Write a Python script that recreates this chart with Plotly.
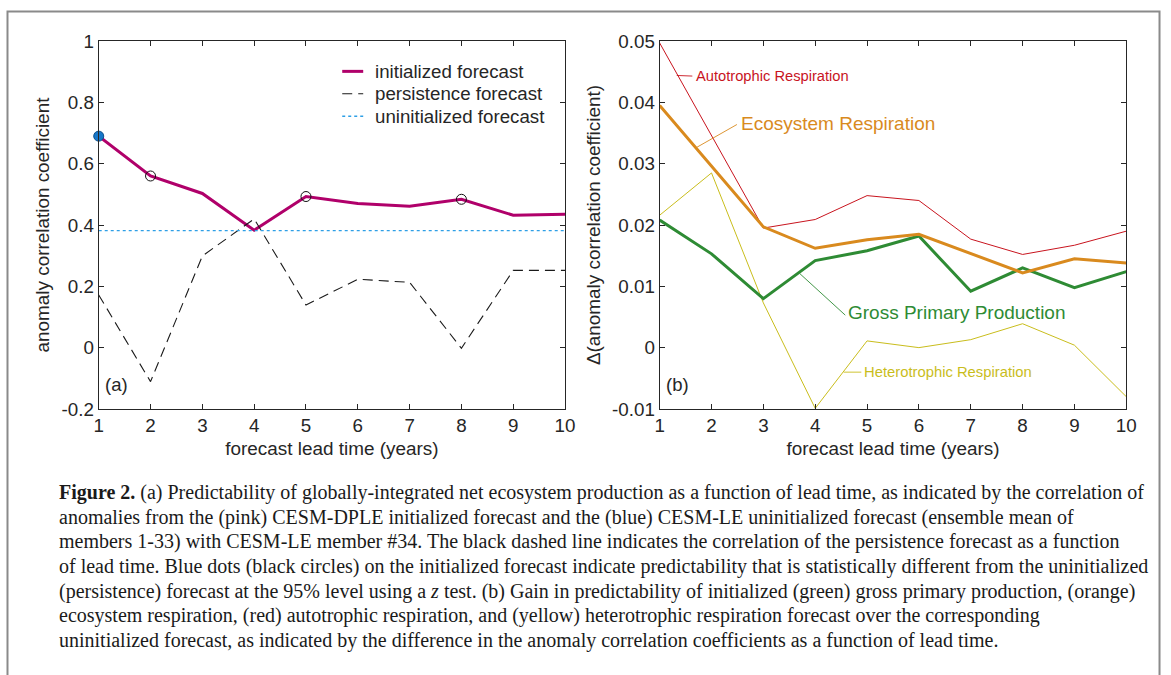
import plotly.graph_objects as go

W, H = 1171, 675
# measured mapping between page pixels and the photographed picture:
# picture = A + S * page  -> design targets are converted back to page pixels
SX, AX = 0.988, 5.5
SY, AY = 0.971, 9.5

# ---------------- data ----------------
lead_time = [1, 2, 3, 4, 5, 6, 7, 8, 9, 10]
x_tick_labels = ["1", "2", "3", "4", "5", "6", "7", "8", "9", "10"]

# panel (a)
initialized = [0.69, 0.56, 0.503, 0.383, 0.493, 0.47, 0.461, 0.484, 0.432, 0.435]
persistence = [0.172, -0.111, 0.299, 0.42, 0.139, 0.223, 0.213, -0.002, 0.252, 0.252]
uninitialized_acc = 0.3815
blue_dot_years = [1]
black_circle_years = [2, 5, 8]
a_tick_vals = [-0.2, 0, 0.2, 0.4, 0.6, 0.8, 1]
a_tick_labels = ["-0.2", "0", "0.2", "0.4", "0.6", "0.8", "1"]

# panel (b)
gross_primary_production = [0.0208, 0.0153, 0.0080, 0.0142, 0.0158, 0.0182, 0.0092, 0.0130, 0.0098, 0.0124]
ecosystem_respiration = [0.0395, 0.0296, 0.0197, 0.0162, 0.0176, 0.0185, 0.0153, 0.0122, 0.0145, 0.0138]
autotrophic_respiration = [0.0497, 0.0345, 0.0195, 0.0209, 0.0248, 0.0240, 0.0177, 0.0152, 0.0167, 0.0190]
heterotrophic_respiration = [0.0216, 0.0285, 0.0073, -0.0099, 0.0011, 0.0000, 0.0013, 0.0039, 0.0004, -0.0080]
b_tick_vals = [-0.01, 0, 0.01, 0.02, 0.03, 0.04, 0.05]
b_tick_labels = ["-0.01", "0", "0.01", "0.02", "0.03", "0.04", "0.05"]

legend_names = ["initialized forecast", "persistence forecast", "uninitialized forecast"]

caption_lines = [
    "<b>Figure 2.</b> (a) Predictability of globally-integrated net ecosystem production as a function of lead time, as indicated by the correlation of",
    "anomalies from the (pink) CESM-DPLE initialized forecast and the (blue) CESM-LE uninitialized forecast (ensemble mean of",
    "members 1-33) with CESM-LE member #34. The black dashed line indicates the correlation of the persistence forecast as a function",
    "of lead time. Blue dots (black circles) on the initialized forecast indicate predictability that is statistically different from the uninitialized",
    "(persistence) forecast at the 95% level using a <i>z</i> test. (b) Gain in predictability of initialized (green) gross primary production, (orange)",
    "ecosystem respiration, (red) autotrophic respiration, and (yellow) heterotrophic respiration forecast over the corresponding",
    "uninitialized forecast, as indicated by the difference in the anomaly correlation coefficients as a function of lead time.",
]

# ---------------- styles ----------------
PINK = "#B0006A"
BLUE_LINE = "#2E9FE6"
BLUE_DOT = "#1677C9"
RED = "#C8141E"
ORANGE = "#D98A1E"
GREEN = "#2E8B34"
YELLOW = "#C9BD1C"
AXC = "#262626"
SANS = "Liberation Sans, Arial, Helvetica, sans-serif"
SERIF = "Liberation Serif, Times New Roman, serif"
PERSIST_DASH = "10px,6px"


def px(x):
    return ((x - AX) / SX) / W


def py(y):
    return 1 - ((y - AY) / SY) / H


fig = go.Figure()

# panel (a)
fig.add_trace(go.Scatter(x=lead_time, y=initialized, mode="lines", name=legend_names[0],
                         line=dict(color=PINK, width=3), xaxis="x", yaxis="y"))
fig.add_trace(go.Scatter(x=lead_time, y=persistence, mode="lines", name=legend_names[1],
                         line=dict(color="#1a1a1a", width=1.1, dash=PERSIST_DASH), xaxis="x", yaxis="y"))
fig.add_trace(go.Scatter(x=lead_time, y=[uninitialized_acc] * len(lead_time), mode="lines",
                         name=legend_names[2],
                         line=dict(color=BLUE_LINE, width=1.3, dash="dot"), xaxis="x", yaxis="y"))
fig.add_trace(go.Scatter(x=blue_dot_years,
                         y=[initialized[lead_time.index(t)] for t in blue_dot_years],
                         mode="markers", cliponaxis=False,
                         marker=dict(color=BLUE_DOT, size=10, line=dict(color="#0d4f8a", width=1)),
                         xaxis="x", yaxis="y"))
fig.add_trace(go.Scatter(x=black_circle_years,
                         y=[initialized[lead_time.index(t)] for t in black_circle_years],
                         mode="markers", cliponaxis=False,
                         marker=dict(color="rgba(0,0,0,0)", size=10, line=dict(color="#111111", width=1)),
                         xaxis="x", yaxis="y"))

# panel (b)
fig.add_trace(go.Scatter(x=lead_time, y=autotrophic_respiration, mode="lines",
                         name="Autotrophic Respiration", line=dict(color=RED, width=1), xaxis="x2", yaxis="y2"))
fig.add_trace(go.Scatter(x=lead_time, y=heterotrophic_respiration, mode="lines",
                         name="Heterotrophic Respiration", line=dict(color=YELLOW, width=1), xaxis="x2", yaxis="y2"))
fig.add_trace(go.Scatter(x=lead_time, y=gross_primary_production, mode="lines",
                         name="Gross Primary Production", line=dict(color=GREEN, width=3), xaxis="x2", yaxis="y2"))
fig.add_trace(go.Scatter(x=lead_time, y=ecosystem_respiration, mode="lines",
                         name="Ecosystem Respiration", line=dict(color=ORANGE, width=3), xaxis="x2", yaxis="y2"))

TICKFONT = dict(family=SANS, size=18.8, color=AXC)
TITLEFONT = dict(family=SANS, size=18.9, color=AXC)
axis_common = dict(showgrid=False, zeroline=False, showline=True, linecolor=AXC, linewidth=1,
                   mirror="ticks", ticks="inside", ticklen=5, tickcolor=AXC, tickwidth=1,
                   tickfont=TICKFONT)

fig.update_layout(
    width=W, height=H, margin=dict(l=0, r=0, t=0, b=0),
    paper_bgcolor="white", plot_bgcolor="white", showlegend=False,
    xaxis=dict(domain=[px(99.3), px(566)], range=[1, 10], tickvals=lead_time, ticktext=x_tick_labels,
               anchor="y", title=dict(text="forecast lead time (years)", font=TITLEFONT, standoff=6),
               **axis_common),
    yaxis=dict(domain=[py(409.3), py(40.7)], range=[-0.2, 1], tickvals=a_tick_vals, ticktext=a_tick_labels,
               anchor="x", title=dict(text="anomaly correlation coefficient", font=TITLEFONT, standoff=6),
               **axis_common),
    xaxis2=dict(domain=[px(660.7), px(1127.7)], range=[1, 10], tickvals=lead_time, ticktext=x_tick_labels,
                anchor="y2", title=dict(text="forecast lead time (years)", font=TITLEFONT, standoff=6),
                **axis_common),
    yaxis2=dict(domain=[py(409.3), py(40.7)], range=[-0.01, 0.05], tickvals=b_tick_vals,
                ticktext=b_tick_labels, anchor="x2",
                title=dict(text="\u0394(anomaly correlation coefficient)", font=TITLEFONT, standoff=6),
                **axis_common),
)

# legend of panel (a): line samples + texts (reference pixel positions)
legend_rows = [
    (71.0, dict(color=PINK, width=3)),
    (93.5, dict(color="#1a1a1a", width=1.1, dash=PERSIST_DASH)),
    (116.0, dict(color=BLUE_LINE, width=1.3, dash="dot")),
]
for name, (yy, style) in zip(legend_names, legend_rows):
    fig.add_shape(type="line", x0=px(343), x1=px(364), y0=py(yy), y1=py(yy), xref="paper", yref="paper",
                  line=style)
    fig.add_annotation(text=name, x=px(374), y=py(yy), xref="paper", yref="paper", xanchor="left",
                       yanchor="middle", showarrow=False, font=dict(family=SANS, size=18.7, color=AXC))

# panel letters
fig.add_annotation(text="(a)", x=px(104), y=py(385), xref="paper", yref="paper", xanchor="left",
                   yanchor="middle", showarrow=False, font=dict(family=SANS, size=18.5, color=AXC))
fig.add_annotation(text="(b)", x=px(665), y=py(385), xref="paper", yref="paper", xanchor="left",
                   yanchor="middle", showarrow=False, font=dict(family=SANS, size=18.5, color=AXC))

# panel (b) curve labels with pointer lines (data coordinates of panel b)
curve_labels = [
    ("Autotrophic Respiration", RED, 14.7, (1.66, 0.0443), (1.33, 0.0444, 1.63, 0.0443)),
    ("Ecosystem Respiration", ORANGE, 19.0, (2.53, 0.0365), (1.70, 0.0326, 2.49, 0.0364)),
    ("Gross Primary Production", GREEN, 19.0, (4.60, 0.0058), (3.70, 0.0121, 4.58, 0.0053)),
    ("Heterotrophic Respiration", YELLOW, 14.8, (4.90, -0.0040), (4.55, -0.0040, 4.89, -0.0040)),
]
for text, color, size, (tx, ty), (x0, y0, x1, y1) in curve_labels:
    fig.add_annotation(text=text, x=tx, y=ty, xref="x2", yref="y2", xanchor="left", yanchor="middle",
                       showarrow=False, font=dict(family=SANS, size=size, color=color))
    fig.add_shape(type="line", x0=x0, y0=y0, x1=x1, y1=y1, xref="x2", yref="y2",
                  line=dict(color=color, width=0.9))

# caption
cap_y = [493, 518, 542.5, 567, 592, 616.5, 641]
for line, yy in zip(caption_lines, cap_y):
    fig.add_annotation(text=line, x=px(57.5), y=py(yy), xref="paper", yref="paper", xanchor="left",
                       yanchor="middle", showarrow=False, font=dict(family=SERIF, size=20, color="#1a1a1a"))

# figure frame
fig.add_shape(type="rect", x0=max(px(8), 1.5 / W), x1=min(px(1163), 1 - 1.5 / W), y0=-0.1,
              y1=min(py(7.5), 1 - 1.5 / H), xref="paper", yref="paper",
              line=dict(color="#8a8a8a", width=2), layer="below")

fig.write_html("out.html", config={"displayModeBar": False},
               post_script="document.body.style.margin='0';document.body.style.overflow='hidden';")
